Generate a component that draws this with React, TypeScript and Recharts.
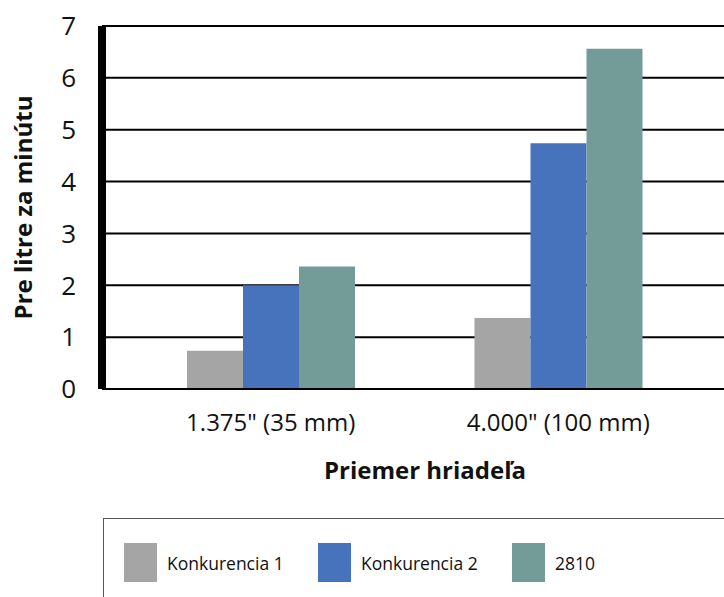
import { BarChart, Bar, XAxis, YAxis, CartesianGrid, Label } from 'recharts'

const categories = ['1.375" (35 mm)', '4.000" (100 mm)']
const konkurencia1 = [0.74, 1.37]
const konkurencia2 = [2.0, 4.74]
const model2810 = [2.36, 6.56]
const yTicks = [0, 1, 2, 3, 4, 5, 6, 7]

const SERIES = [
  { key: 'k1', name: 'Konkurencia 1', color: '#A5A5A5' },
  { key: 'k2', name: 'Konkurencia 2', color: '#4673BB' },
  { key: 's2810', name: '2810', color: '#739C98' },
]

const data = categories.map((name, i) => ({
  name,
  k1: konkurencia1[i],
  k2: konkurencia2[i],
  s2810: model2810[i],
}))

const FONT = '"Open Sans", "Noto Sans", sans-serif'

export default function App() {
  return (
    <div style={{ position: 'absolute', left: 0, top: 0, width: 724, height: 597, background: '#fff', fontFamily: FONT, overflow: 'hidden' }}>
      <BarChart
        width={724}
        height={597}
        data={data}
        margin={{ top: 26, right: 0, bottom: 0, left: 0 }}
        barGap={0}
        barCategoryGap={60}
      >
        <CartesianGrid vertical={false} stroke="#000" strokeWidth={2} />
        <XAxis
          dataKey="name"
          padding={{ left: 25, right: 22 }}
          axisLine={{ stroke: '#000', strokeWidth: 2 }}
          tickLine={false}
          tickSize={0}
          tickMargin={25}
          height={208}
          interval={0}
          tick={{ fontSize: 24, fill: '#111', fontFamily: FONT }}
        >
          <Label
            content={({ viewBox }: any) => (
              <text
                x={viewBox.x + viewBox.width / 2 + 12}
                y={viewBox.y + 90}
                textAnchor="middle"
                fontSize={24}
                fontWeight={700}
                fill="#111"
                fontFamily={FONT}
              >
                Priemer hriadeľa
              </text>
            )}
          />
        </XAxis>
        <YAxis
          domain={[0, 7]}
          ticks={yTicks}
          interval={0}
          width={102}
          axisLine={{ stroke: '#000', strokeWidth: 8 }}
          tickLine={false}
          tickSize={0}
          tickMargin={26}
          tick={{ fontSize: 26, fill: '#111', fontFamily: FONT }}
        >
          <Label
            content={({ viewBox }: any) => {
              const cy = viewBox.y + viewBox.height / 2
              return (
                <text
                  x={22}
                  y={cy}
                  transform={`rotate(-90, 22, ${cy})`}
                  textAnchor="middle"
                  dominantBaseline="central"
                  fontSize={24}
                  fontWeight={700}
                  fill="#111"
                  fontFamily={FONT}
                >
                  Pre litre za minútu
                </text>
              )
            }}
          />
        </YAxis>
        {SERIES.map((s) => (
          <Bar key={s.key} dataKey={s.key} name={s.name} fill={s.color} isAnimationActive={false} />
        ))}
      </BarChart>
      <div
        style={{
          position: 'absolute',
          left: 103,
          top: 518,
          width: 660,
          height: 120,
          border: '1px solid #555',
          boxSizing: 'border-box',
        }}
      >
        {SERIES.map((s, i) => (
          <div
            key={s.key}
            style={{
              position: 'absolute',
              left: 20 + i * 194,
              top: 24,
              display: 'flex',
              alignItems: 'center',
              fontSize: 17.5,
              color: '#111',
            }}
          >
            <div style={{ width: 33, height: 39, background: s.color, marginRight: 10 }} />
            <span>{s.name}</span>
          </div>
        ))}
      </div>
    </div>
  )
}
